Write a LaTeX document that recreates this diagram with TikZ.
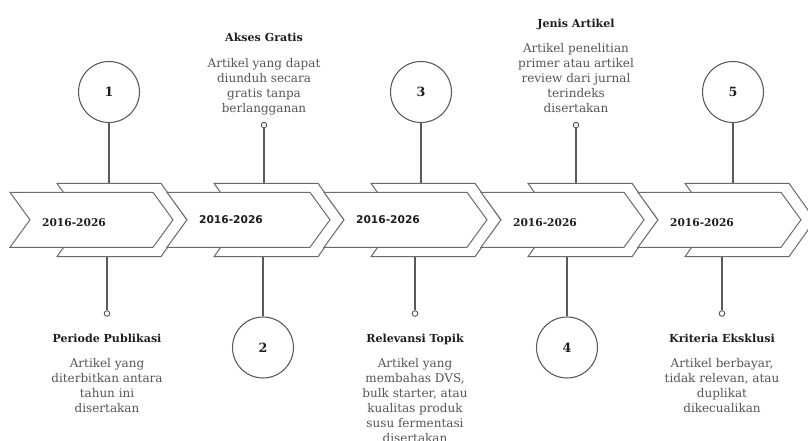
\documentclass[tikz,border=0pt]{standalone}
\usepackage{fontspec}
\setmainfont{DejaVu Serif}
\newfontfamily\yearsansfont{DejaVu Sans}
\definecolor{linec}{HTML}{5A5A5A}
\definecolor{chevc}{HTML}{6A6A6A}
\definecolor{bodyc}{HTML}{555555}
\definecolor{titlec}{HTML}{1E1E1E}
\begin{document}
\begin{tikzpicture}[x=0.75pt,y=-0.75pt,
 conn/.style={draw=linec,line width=0.8pt},
 chevback/.style={draw=chevc,fill=white,line width=0.75pt},
 chevfront/.style={draw=chevc,fill=white,line width=0.75pt},
 numcirc/.style={circle,draw=linec,line width=0.8pt,minimum size=45.75pt,inner sep=0pt,font=\bfseries\fontsize{9.5}{11}\selectfont,text=titlec},
 enddot/.style={circle,draw=linec,fill=white,line width=0.7pt,minimum size=4.2pt,inner sep=0pt},
 ttl/.style={font=\bfseries\fontsize{8.3}{10}\selectfont,text=titlec,inner sep=0pt,anchor=base},
 bodytxt/.style={font=\fontsize{9}{11.25}\selectfont,text=bodyc,align=center,inner sep=0pt,anchor=north},
 yearserif/.style={font=\bfseries\fontsize{8}{10}\selectfont,text=titlec,inner sep=0pt},
 yearsans/.style={font=\yearsansfont\bfseries\fontsize{8}{10}\selectfont,text=titlec,inner sep=0pt},
]
\useasboundingbox (0,0) rectangle (808,441);
% chevrons
\foreach \i in {0,...,4}{
  \pgfmathsetmacro\s{157*\i}
  \draw[chevback] (57+\s,183.3) -- (161+\s,183.3) -- (187+\s,220) -- (161+\s,256.7) -- (57+\s,256.7) -- (83+\s,220) -- cycle;
  \draw[chevfront] (10+\s,192.3) -- (153+\s,192.3) -- (173+\s,219.8) -- (153+\s,247.3) -- (10+\s,247.3) -- (30+\s,219.8) -- cycle;
}
% years
\node[yearserif] (y1) at (74,223) {2016-2026};
\node[yearsans]  (y2) at (231,220) {2016-2026};
\node[yearsans]  (y3) at (388,220) {2016-2026};
\node[yearserif] (y4) at (545,223) {2016-2026};
\node[yearserif] (y5) at (702,223) {2016-2026};
% attachment points on chevrons
\coordinate (a1) at (109,183.3);
\coordinate (a2) at (264,183.3);
\coordinate (a3) at (421,183.3);
\coordinate (a4) at (576,183.3);
\coordinate (a5) at (733,183.3);
\coordinate (b1) at (107,256.7);
\coordinate (b2) at (263,256.7);
\coordinate (b3) at (415,256.7);
\coordinate (b4) at (567,256.7);
\coordinate (b5) at (722,256.7);
% number circles
\node[numcirc] (n1) at (109,92) {1};
\node[numcirc] (n3) at (421,92) {3};
\node[numcirc] (n5) at (733,92) {5};
\node[numcirc] (n2) at (263,347.5) {2};
\node[numcirc] (n4) at (567,347.5) {4};
% end dots
\node[enddot] (d2) at (264,125) {};
\node[enddot] (d4) at (576,125) {};
\node[enddot] (d1) at (107,313.5) {};
\node[enddot] (d3) at (415,313.5) {};
\node[enddot] (d5) at (722,313.5) {};
% connectors
\draw[conn] (n1) -- (a1);
\draw[conn] (d2) -- (a2);
\draw[conn] (n3) -- (a3);
\draw[conn] (d4) -- (a4);
\draw[conn] (n5) -- (a5);
\draw[conn] (b1) -- (d1);
\draw[conn] (b2) -- (n2);
\draw[conn] (b3) -- (d3);
\draw[conn] (b4) -- (n4);
\draw[conn] (b5) -- (d5);
% texts
\node[ttl] (t2) at (264,42) {Akses Gratis};
\node[bodytxt] (x2) at (264,58.5) {Artikel yang dapat\\diunduh secara\\gratis tanpa\\berlangganan};
\node[ttl] (t4) at (576,27.3) {Jenis Artikel};
\node[bodytxt] (x4) at (576,43) {Artikel penelitian\\primer atau artikel\\review dari jurnal\\terindeks\\disertakan};
\node[ttl] (t1) at (107,342.3) {Periode Publikasi};
\node[bodytxt] (x1) at (107,358) {Artikel yang\\diterbitkan antara\\tahun ini\\disertakan};
\node[ttl] (t3) at (415,342.3) {Relevansi Topik};
\node[bodytxt] (x3) at (415,358) {Artikel yang\\membahas DVS,\\bulk starter, atau\\kualitas produk\\susu fermentasi\\disertakan};
\node[ttl] (t5) at (722,342.3) {Kriteria Eksklusi};
\node[bodytxt] (x5) at (722,358) {Artikel berbayar,\\tidak relevan, atau\\duplikat\\dikecualikan};
\end{tikzpicture}
\end{document}
